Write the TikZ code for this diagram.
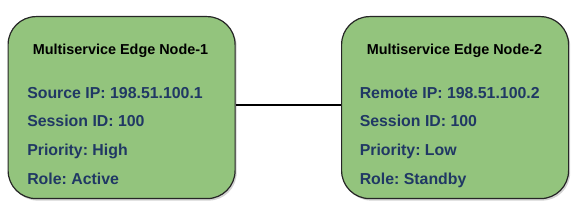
\documentclass[tikz,border=0pt]{standalone}
\usepackage{fontspec}
\setmainfont{Liberation Sans}
\frenchspacing
\usetikzlibrary{shadows}
\definecolor{boxgreen}{RGB}{147,196,125}
\definecolor{txtblue}{RGB}{32,56,100}
\begin{document}
\begin{tikzpicture}[x=0.75pt,y=-0.75pt,
  edgebox/.style={draw=black!85,line width=0.9pt,fill=boxgreen,rounded corners=21pt,
    drop shadow={shadow xshift=1.2pt,shadow yshift=-1.5pt,opacity=0.35,fill=black!50}},
  titletxt/.style={font=\fontsize{10.8}{12}\selectfont\bfseries,text=black,anchor=base,inner sep=0pt},
  bodytxt/.style={font=\fontsize{11.9}{13}\selectfont\bfseries,text=txtblue,anchor=base west,inner sep=0pt},
  link/.style={draw=black,line width=1.5pt}]
\useasboundingbox (0,0) rectangle (587,221);
\node[edgebox,minimum width=227*0.75pt,minimum height=182*0.75pt,anchor=north west] (n1) at (7.5,16) {};
\node[edgebox,minimum width=227*0.75pt,minimum height=182*0.75pt,anchor=north west] (n2) at (341,16) {};
\node[titletxt] (t1) at (120.5,55) {Multiservice Edge Node-1};
\node[bodytxt] (a1) at (27,98.3) {Source IP: 198.51.100.1};
\node[bodytxt] (b1) at (27,126.7) {Session ID: 100};
\node[bodytxt] (c1) at (27,155.7) {Priority: High};
\node[bodytxt] (d1) at (27,184.5) {Role: Active};
\node[titletxt] (t2) at (454.5,55) {Multiservice Edge Node-2};
\node[bodytxt] (a2) at (359.5,98.7) {Remote IP: 198.51.100.2};
\node[bodytxt] (b2) at (359.5,126.7) {Session ID: 100};
\node[bodytxt] (c2) at (359.5,155.7) {Priority: Low};
\node[bodytxt] (d2) at (359.5,185) {Role: Standby};
\draw[link] (n1.east |- 0,105) -- (n2.west |- 0,105);
\end{tikzpicture}
\end{document}
